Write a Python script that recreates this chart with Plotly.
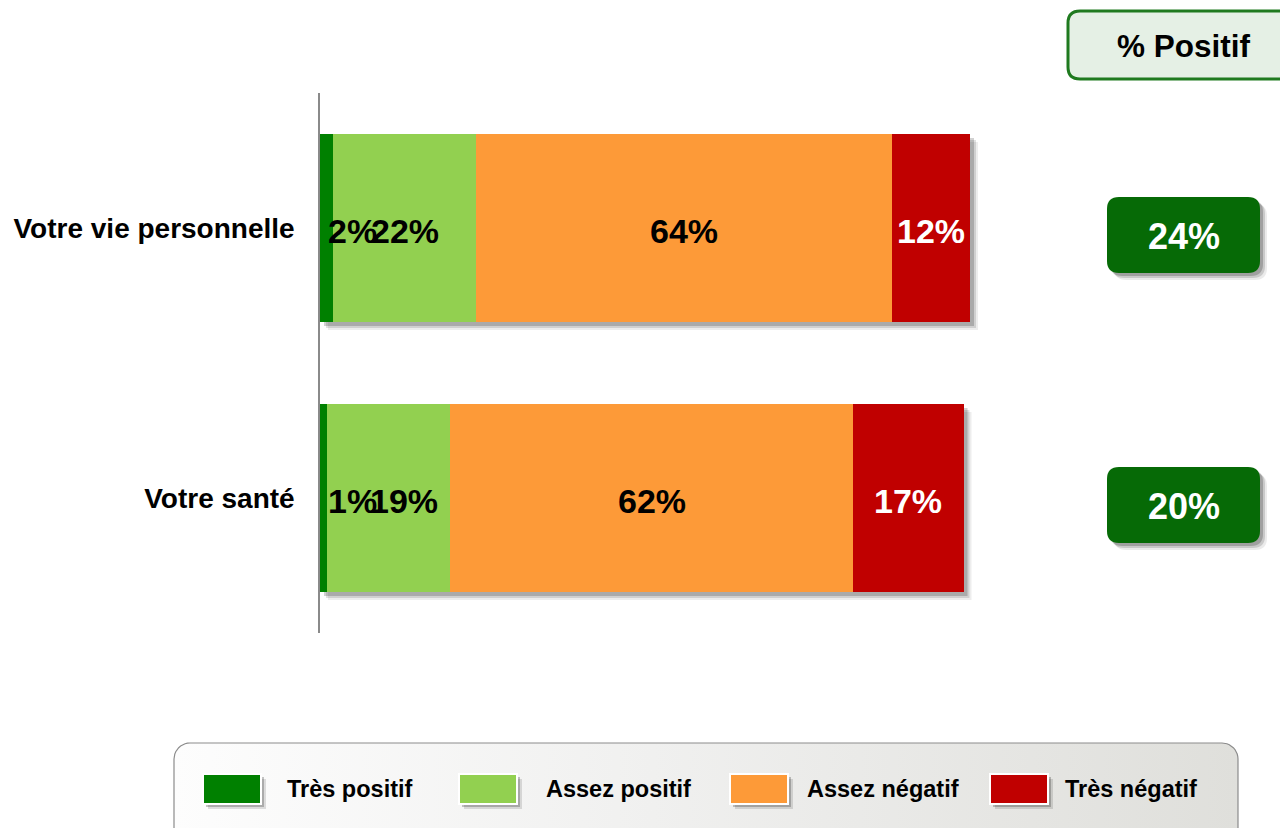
import math
import plotly.graph_objects as go

# ---------------- data ----------------
categories = ["Votre vie personnelle", "Votre santé"]
series_names = ["Très positif", "Assez positif", "Assez négatif", "Très négatif"]
tres_positif = [2, 1]
assez_positif = [22, 19]
assez_negatif = [64, 62]
tres_negatif = [12, 17]
pct_positif = [24, 20]
header_label = "% Positif"

colors = ["#008000", "#92d050", "#fd9a38", "#c00000"]
label_colors = ["black", "black", "black", "white"]
series = [tres_positif, assez_positif, assez_negatif, tres_negatif]

# ---------------- geometry (layout only, page pixels) ----------------
W, H = 1288, 828
OFF = 8              # page body margin: figure starts at (8, 8) in the page
X0_PX = 320          # page pixel of bar origin
PX_PER_UNIT = 6.5    # pixels per percentage point
XMAX = 105
Y_TOP, Y_BOT = 93, 633
ROW_PX = (Y_BOT - Y_TOP) / 2.0
BARGAP = 0.304
HALF = (1 - BARGAP) / 2
FONT = "Liberation Sans, Arial, sans-serif"
BAR_FONT = 34

fig = go.Figure()

for name, vals, col in zip(series_names, series, colors):
    fig.add_trace(go.Bar(
        y=categories, x=vals, orientation="h", name=name,
        marker=dict(color=col, line=dict(width=0)),
        showlegend=False, hoverinfo="skip",
    ))

shapes = []
annotations = []

# bar shadows (computed from the totals)
for i in range(len(categories)):
    total = sum(s[i] for s in series)
    for off, alpha in [(8, 0.07), (6, 0.12), (4, 0.18)]:
        shapes.append(dict(
            type="rect", xref="x", yref="y", layer="below",
            x0=off / PX_PER_UNIT, x1=total + off / PX_PER_UNIT,
            y0=i - HALF + off / ROW_PX, y1=i + HALF + off / ROW_PX,
            fillcolor=f"rgba(0,0,0,{alpha})", line=dict(width=0),
        ))

# bar value labels
def text_w_units(txt, size):
    w = 0
    for ch in txt:
        w += 0.889 if ch == "%" else 0.556
    return w * size / PX_PER_UNIT

for i in range(len(categories)):
    cum = 0
    prev_end = None
    for s, vals in enumerate(series):
        v = vals[i]
        txt = f"{v}%"
        wu = text_w_units(txt, BAR_FONT)
        start, end = cum, cum + v
        if v < 5:
            x = start + 0.9
            anchor = "left"
            prev_end = x + wu
        else:
            x = (start + end) / 2
            if prev_end is not None:
                x = max(x, prev_end + wu / 2 - 0.8)
            anchor = "center"
            prev_end = None
        annotations.append(dict(
            x=x, y=i + 0.01, xref="x", yref="y", text=txt, showarrow=False,
            xanchor=anchor, yanchor="middle",
            font=dict(family=FONT, size=BAR_FONT, color=label_colors[s], weight="bold"),
        ))
        cum = end

# helpers in page-pixel space (x2 / y2 cover the whole figure)
def rrect(x0, y0, x1, y1, r):
    return (f"M{x0+r},{y0} L{x1-r},{y0} Q{x1},{y0} {x1},{y0+r} "
            f"L{x1},{y1-r} Q{x1},{y1} {x1-r},{y1} L{x0+r},{y1} "
            f"Q{x0},{y1} {x0},{y1-r} L{x0},{y0+r} Q{x0},{y0} {x0+r},{y0} Z")

# header box "% Positif"
shapes.append(dict(type="path", xref="x2", yref="y2", layer="above",
                   path=rrect(1068, 11, 1320, 79, 12),
                   fillcolor="#e5f0e5", line=dict(color="#1f7a1f", width=3)))
annotations.append(dict(x=1184, y=46, xref="x2", yref="y2", text=header_label,
                        showarrow=False, xanchor="center", yanchor="middle",
                        font=dict(family=FONT, size=31.5, color="black", weight="bold")))

# positive totals boxes
for i, p in enumerate(pct_positif):
    cy = Y_TOP + ROW_PX * (i + 0.5) + 7
    y0, y1 = cy - 38, cy + 38
    for off, alpha in [(7, 0.08), (5, 0.14), (3, 0.2)]:
        shapes.append(dict(type="path", xref="x2", yref="y2", layer="above",
                           path=rrect(1107 + off, y0 + off, 1260 + off, y1 + off, 12),
                           fillcolor=f"rgba(0,0,0,{alpha})", line=dict(width=0)))
    shapes.append(dict(type="path", xref="x2", yref="y2", layer="above",
                       path=rrect(1107, y0, 1260, y1, 12),
                       fillcolor="#066a06", line=dict(width=0)))
    annotations.append(dict(x=1184, y=cy + 1, xref="x2", yref="y2", text=f"{p}%",
                            showarrow=False, xanchor="center", yanchor="middle",
                            font=dict(family=FONT, size=36, color="white", weight="bold")))

# legend box (gradient) drawn as a filled scatter in page-pixel space
lx0, ly0, lx1, ly1, lr = 174, 743, 1238, 870, 16
pts_x, pts_y = [], []
corners = [(lx1 - lr, ly0 + lr, -90, 0), (lx1 - lr, ly1 - lr, 0, 90),
           (lx0 + lr, ly1 - lr, 90, 180), (lx0 + lr, ly0 + lr, 180, 270)]
for cx, cy, a0, a1 in corners:
    for k in range(11):
        a = math.radians(a0 + (a1 - a0) * k / 10)
        pts_x.append(cx + lr * math.cos(a))
        pts_y.append(cy + lr * math.sin(a))
pts_x.append(pts_x[0]); pts_y.append(pts_y[0])
fig.add_trace(go.Scatter(
    x=pts_x, y=pts_y, xaxis="x2", yaxis="y2", mode="lines", fill="toself",
    line=dict(color="#8c8c8c", width=1.2),
    fillgradient=dict(type="horizontal",
                      colorscale=[[0, "#fdfdfd"], [0.45, "#f0f0ef"], [1, "#dfdfdb"]]),
    showlegend=False, hoverinfo="skip",
))

# legend items
sw_x = [203, 459, 730, 990]
tx_x = [285, 544, 805, 1063]
for name, col, sx, tx in zip(series_names, colors, sw_x, tx_x):
    for off, alpha in [(5, 0.12), (3, 0.22)]:
        shapes.append(dict(type="rect", xref="x2", yref="y2", layer="above",
                           x0=sx + off, x1=sx + 58 + off, y0=774 + off, y1=804 + off,
                           fillcolor=f"rgba(0,0,0,{alpha})", line=dict(width=0)))
    shapes.append(dict(type="rect", xref="x2", yref="y2", layer="above",
                       x0=sx, x1=sx + 58, y0=774, y1=804,
                       fillcolor=col, line=dict(color="white", width=2)))
    annotations.append(dict(x=tx, y=789, xref="x2", yref="y2", text=name,
                            showarrow=False, xanchor="left", yanchor="middle",
                            font=dict(family=FONT, size=23.5, color="black", weight="bold")))

fig.update_layout(
    width=W, height=H, barmode="stack", bargap=BARGAP,
    margin=dict(l=0, r=0, t=0, b=0),
    paper_bgcolor="white", plot_bgcolor="rgba(0,0,0,0)",
    showlegend=False,
    xaxis=dict(domain=[(X0_PX - OFF) / W, (X0_PX - OFF + XMAX * PX_PER_UNIT) / W],
               range=[0, XMAX], visible=False, fixedrange=True),
    yaxis=dict(domain=[(H - (Y_BOT - OFF)) / H, (H - (Y_TOP - OFF)) / H],
               range=[1.5, -0.5], showline=True, linecolor="#8a8a8a", linewidth=1.5,
               showgrid=False, zeroline=False, ticks="", ticklabelstandoff=18,
               tickfont=dict(family=FONT, size=28, color="black", weight="bold")),
    xaxis2=dict(domain=[0, 1], range=[OFF, W + OFF], visible=False, anchor="y2", fixedrange=True),
    yaxis2=dict(domain=[0, 1], range=[H + OFF, OFF], visible=False, anchor="x2", fixedrange=True),
    shapes=shapes, annotations=annotations,
)

fig.write_html("out.html")
